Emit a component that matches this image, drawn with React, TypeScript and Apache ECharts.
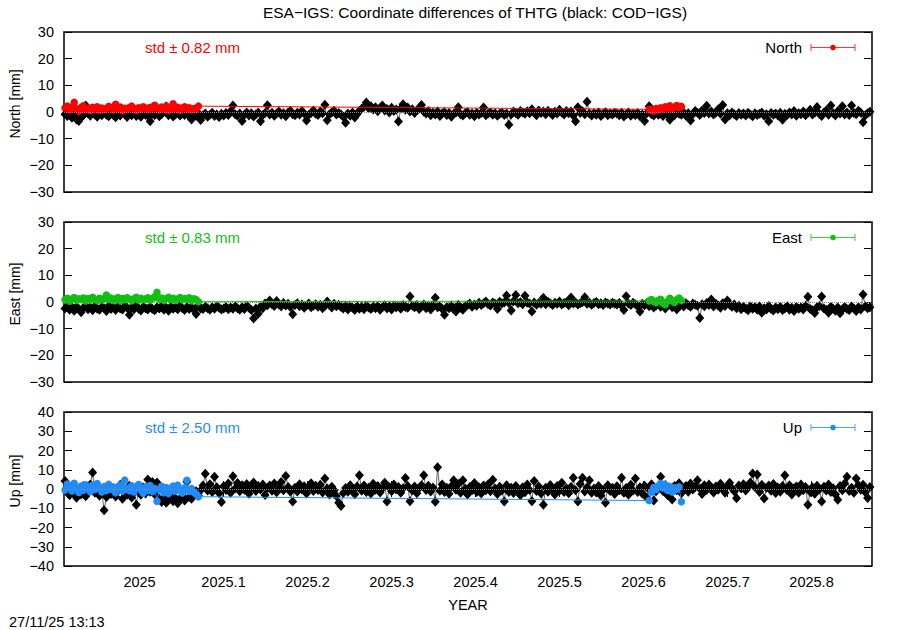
import React, { useEffect, useRef } from "react";
import * as echarts from "echarts";

// ---------- DATA ----------
const TITLE = "ESA\u2212IGS: Coordinate differences of THTG (black: COD\u2212IGS)";
const FOOTER = "27/11/25 13:13";
const X_NAME = "YEAR";
const START_YEAR = 2024.9113; // epoch of day 0
const DAYS_PER_YEAR = 365.25;
const X_MIN = 2024.9101;
const X_MAX = 2025.872;
const X_TICKS = [2025, 2025.1, 2025.2, 2025.3, 2025.4, 2025.5, 2025.6, 2025.7, 2025.8];

const PANEL_NAMES = ["North", "East", "Up"];
const PANEL_LABELS = ["North [mm]", "East [mm]", "Up [mm]"];
const PANEL_STD = ["std \u00b1 0.82 mm", "std \u00b1 0.83 mm", "std \u00b1 2.50 mm"];
const PANEL_COLORS = ["#ff0000", "#10c010", "#1e8cff"];
const Y_RANGES = [[-30, 30], [-30, 30], [-40, 40]];

// ESA clusters start days
const ESA_START_1 = 0;
const ESA_START_2 = 254;

// COD-IGS (black), daily, from day 0
const northCod = [
  -0.8,-1.5,-0.3,-2.2,-1.0,-2.8,-3.4,-2.0,-1.2,2.4,
  -0.6,-1.4,0.2,-0.9,-1.8,-0.5,-1.2,0.4,-1.0,-1.6,
  -0.4,-1.1,-2.0,-0.7,-1.3,0.6,-0.8,-1.9,-0.6,-1.2,
  -0.2,-1.5,-0.9,-1.8,-0.4,-1.0,-1.4,-3.5,-0.7,-1.1,
  -0.3,-1.6,-0.8,1.0,2.2,-1.2,-0.2,-1.7,-0.9,-0.4,
  -1.3,-0.6,-1.1,-0.2,-1.5,-2.8,-0.8,-1.4,-0.5,-3.0,
  -1.2,-0.6,-1.8,-1.0,-0.3,-1.5,-0.9,-1.9,-0.7,-1.3,
  -0.4,-1.1,0.3,2.4,-0.8,-1.4,-0.6,-3.4,-1.0,-0.2,
  -1.3,-0.5,-1.7,-0.8,-0.2,-3.5,-1.1,-0.4,2.5,-0.9,
  -0.3,-1.4,-0.6,0.2,-1.0,-0.5,-1.6,-0.2,0.5,-0.8,
  -1.2,-0.3,-0.9,0.4,-0.6,-3.2,-1.0,-0.4,0.6,-0.7,
  -1.1,0.2,-0.5,2.7,-3.1,-0.8,-0.2,0.5,-0.9,-0.4,
  -0.9,-1.8,-4.0,-0.6,-1.4,-0.2,-2.1,-0.8,0.5,1.2,
  2.0,3.6,1.4,2.2,0.9,1.8,0.3,1.5,2.4,0.6,
  1.1,-0.2,1.6,0.4,0.9,-3.6,1.3,2.9,0.8,1.7,
  0.2,1.0,-0.4,0.7,1.4,2.6,0.1,-0.6,0.4,-1.2,
  -0.3,-0.9,0.2,-1.5,-0.6,-0.1,-1.1,-0.4,-1.8,-0.7,
  -0.2,1.8,-0.8,-1.3,-0.5,-0.1,-1.0,-0.6,-1.6,-0.3,
  -0.9,-0.4,1.7,-1.2,-0.6,-0.2,-1.0,-0.5,-1.4,-0.7,
  -0.3,-1.1,-0.6,-4.8,-0.9,0.2,-0.4,-1.0,0.4,-0.2,
  -0.7,0.3,-0.5,1.0,-0.3,-1.2,0.6,-0.4,0.2,-0.8,
  0.5,-0.3,-1.1,0.1,-0.6,0.8,-0.2,-0.9,0.4,-0.5,
  0.2,-1.3,-3.5,1.8,-0.4,0.3,-0.8,3.8,-0.6,-1.3,
  -0.5,-1.0,-0.2,-1.5,-0.7,-0.1,-1.2,-0.6,-0.9,-0.3,
  -0.6,-1.2,-0.3,-1.7,-0.8,-0.2,-1.4,-0.7,-1.1,-0.4,
  -1.6,-0.9,-3.4,-0.5,2.2,-0.8,-1.3,-0.2,-1.0,-0.6,
  -1.5,-0.3,-0.9,-2.9,-0.4,-1.2,0.3,-0.7,-1.0,-0.2,
  -1.4,-0.5,-3.2,-0.8,0.4,-0.3,-1.1,0.6,-0.4,2.3,
  -0.6,0.2,-0.9,-0.3,1.0,-0.7,2.6,-2.8,-0.5,-1.2,
  -0.2,-0.8,-1.5,-0.4,-1.0,-0.6,-1.3,-0.3,-0.9,-1.6,
  -0.5,-1.1,-0.7,-0.2,-1.4,-0.8,-3.5,-0.4,-1.0,-0.6,
  -1.3,-0.3,-2.9,-0.7,-1.1,-0.2,-0.9,0.4,-1.4,-0.5,
  -0.8,0.2,-1.2,-0.4,0.8,-0.9,-0.3,1.9,-0.7,-1.5,
  -0.2,0.6,-1.0,2.4,-0.5,-1.3,0.3,-0.6,2.2,-0.9,
  -0.2,-1.1,2.4,-0.4,-0.8,0.5,-0.3,-3.8,-1.2,-0.5,
  0.1,
];

const eastCod = [
  -2.4,-1.6,-2.9,-2.0,-3.3,-1.8,-2.6,-3.8,-2.2,-1.4,
  -2.7,-2.0,-3.1,-1.7,-2.5,-2.9,-1.9,-2.3,-3.4,-1.5,
  -2.6,-2.1,-3.0,-1.8,-2.4,-2.8,-1.6,-2.2,-4.8,-2.0,
  -2.7,-1.4,-2.5,-3.2,-1.9,-2.3,-2.8,-1.7,-2.6,-3.1,
  -2.0,-2.4,-1.6,-2.9,-2.2,-3.3,-1.8,-2.5,-2.0,-2.7,
  -1.5,-2.3,-3.0,-1.9,-2.6,-2.1,-2.8,-4.5,-1.2,-2.4,
  -2.6,-1.8,-2.3,-2.9,-2.0,-2.5,-1.6,-2.2,-2.8,-2.4,
  -1.9,-2.7,-2.1,-2.5,-1.7,-2.3,-2.9,-2.0,-2.6,-1.5,
  -2.2,-3.0,-6.2,-2.4,-4.4,-1.8,-2.3,-0.6,-1.2,0.6,
  -0.8,-1.5,0.4,-0.9,-1.7,-0.4,-1.3,-0.7,-1.9,-4.6,
  -1.1,-0.5,-1.6,-0.9,-2.2,-1.3,-0.6,-2.0,-1.4,-0.8,
  -1.8,-1.0,-2.3,-1.5,0.2,-1.2,-2.1,-0.7,-1.6,-1.0,
  -1.9,-2.4,-1.3,-2.8,-1.7,-2.2,-3.0,-1.6,-2.5,-1.9,
  -2.7,-1.4,-2.1,-2.6,-1.8,-2.3,-1.5,-2.9,-2.0,-1.2,
  -2.4,-1.7,-2.8,-1.3,-2.1,-1.6,-2.5,-1.1,-1.9,-2.2,
  2.1,-1.4,-2.0,-1.1,-2.6,-1.7,-0.9,-2.3,-1.5,-2.8,
  -1.2,1.6,-2.0,-1.6,-2.6,-4.8,-1.9,-2.3,-1.3,-2.7,
  -3.6,-1.0,-2.2,-2.9,-1.5,-1.1,-0.6,-1.8,-0.9,-1.4,
  -0.3,-1.1,-0.5,0.2,-0.8,-1.3,-0.2,-0.7,-2.6,0.1,
  -0.6,-0.2,2.4,-0.4,-3.2,0.3,2.6,-0.5,-0.1,-0.8,
  2.3,-0.3,-0.6,-3.6,-0.2,-1.0,-0.4,-0.7,1.6,-0.8,
  0.1,-0.5,-1.1,-0.3,-0.7,0.2,-0.9,-0.4,-0.1,-1.2,
  1.7,-0.6,-0.2,-0.9,-0.5,-0.1,1.8,-0.7,-0.3,-1.0,
  -0.4,0.0,-0.8,-0.5,-1.1,-0.2,-0.6,-0.9,-0.3,-0.7,
  -0.9,-0.4,-1.3,-3.0,2.2,-0.6,-1.1,-0.3,-0.8,-1.5,
  -3.6,-0.7,-1.2,-0.4,-1.6,-0.9,-2.1,-1.3,-0.6,-1.8,
  -1.0,-2.4,-1.4,-0.7,-2.0,-1.1,-2.8,-1.5,-0.9,-1.7,
  -0.5,-1.2,-1.8,-0.6,-1.0,-1.4,-6.0,-0.8,-1.6,-0.4,
  -1.1,0.9,-1.7,-0.7,-1.3,-2.2,-0.5,-1.5,0.6,-1.0,
  -1.8,-0.9,-2.3,-1.4,-2.7,-1.9,-2.4,-3.1,-1.6,-2.5,
  -2.0,-2.9,-1.7,-4.0,-2.3,-2.8,-1.5,-2.6,-3.2,-2.1,
  -2.7,-1.8,-3.0,-2.4,-1.6,-2.9,-2.2,-3.4,-1.9,-2.5,
  -2.1,-2.8,-1.4,2.0,-2.6,-3.1,-4.1,-2.0,-1.5,2.1,
  -2.4,-2.9,-4.0,-1.8,-2.5,-3.3,-2.1,-4.2,-2.7,-1.9,
  -2.6,-3.0,-1.7,-2.4,-3.4,-2.0,-2.8,2.8,-1.6,-2.3,
  -2.0,
];

const upCod = [
  4.2,-1.5,-3.2,0.8,-2.4,-4.6,-0.6,-2.9,1.5,-3.8,
  -1.2,2.4,8.6,-2.0,0.9,-3.5,-1.8,-11.0,-4.2,1.2,
  -2.6,0.4,-3.9,-1.0,2.2,-5.1,-0.7,-2.8,1.7,-4.4,
  -1.9,-8.2,-0.4,-3.0,0.8,-2.3,5.0,-1.4,3.6,-2.7,
  3.4,-5.2,-6.8,-4.5,-7.2,-5.8,-3.9,-6.4,-4.8,-7.4,
  -5.5,-3.6,-6.0,3.8,-4.2,-5.1,-2.7,-1.2,-3.4,-0.6,
  1.8,7.9,-0.8,2.5,-1.6,6.3,0.9,-2.2,-6.8,1.4,
  -0.5,2.8,-1.9,6.6,0.3,3.1,-1.2,1.9,-0.4,2.6,
  -2.5,0.7,3.4,-1.0,1.6,-0.2,2.3,-3.1,0.5,1.8,
  -0.9,2.9,-1.7,0.4,3.6,-0.6,6.8,1.1,-1.4,-6.5,
  0.6,-1.3,2.5,-0.3,1.4,-2.4,0.9,3.0,-1.1,1.7,
  -0.5,2.2,-1.8,5.4,0.3,-2.9,1.2,-0.7,-3.6,-7.2,
  -8.8,-2.1,0.5,-1.4,2.0,-0.6,-2.7,1.3,7.2,-0.9,
  1.8,-1.5,0.6,-2.3,2.7,-0.4,1.5,-1.8,0.2,3.3,
  -6.5,0.9,-1.2,2.4,-0.3,1.1,-2.0,0.4,5.7,1.6,
  -6.4,-0.8,1.3,-2.2,0.5,2.0,7.2,-0.5,1.7,-1.3,
  0.8,-6.6,11.3,-0.9,2.3,-1.6,0.6,-2.5,1.4,4.6,
  -0.4,2.6,-1.9,4.5,0.2,-2.8,1.0,-0.7,3.1,-1.5,
  0.9,-2.3,1.8,-0.6,2.5,-1.2,4.8,0.3,-2.6,1.2,
  -0.8,-6.5,2.0,-1.5,0.7,-2.1,1.6,-0.3,-3.2,0.9,
  -1.7,2.4,-0.5,-6.4,4.1,-1.0,1.3,-2.4,-8.2,0.6,
  -1.4,2.1,-0.2,-2.8,1.5,-0.9,3.2,-1.6,0.4,-2.2,
  1.1,5.8,-0.7,-6.5,2.6,5.9,-1.3,0.8,4.6,-2.0,
  0.3,-1.8,1.6,-3.4,-0.5,-7.2,2.0,-1.1,0.7,-2.6,
  1.4,-0.6,5.8,-1.9,0.5,-3.0,2.2,-0.8,5.4,-1.5,
  0.9,-2.4,1.7,-4.6,-0.3,2.5,-6.0,-1.2,0.6,6.3,
  -1.0,2.1,-3.3,0.8,-5.5,1.5,-0.7,3.0,-2.2,0.4,
  1.6,-1.4,2.8,-0.2,1.0,4.6,0.3,-2.6,1.9,-0.5,
  2.4,0.6,-1.8,1.3,-0.4,2.7,0.1,-2.0,1.5,3.2,
  0.4,-1.2,-4.8,1.8,0.2,2.5,-0.8,1.2,3.4,8.0,
  1.0,7.5,-1.5,2.2,-4.9,0.6,1.8,-0.9,2.6,-2.1,
  0.8,-1.4,1.5,7.2,-0.6,2.0,-2.8,0.4,1.3,-1.9,
  2.4,-0.7,1.0,-8.2,-1.6,0.9,-2.5,1.7,-0.3,-6.5,
  1.2,-0.8,2.3,-1.5,0.4,-2.9,-5.6,1.6,-0.6,2.8,
  6.3,-1.1,0.7,-2.0,5.4,1.9,-0.4,2.2,-1.7,-4.7,
  1.0,
];

// ESA-IGS (coloured), two clusters
const northEsa1 = [
  1.5,2.2,0.8,1.9,3.6,1.2,0.4,1.7,2.3,0.9,
  1.4,0.6,1.8,1.1,2.0,0.7,1.5,0.9,1.3,2.1,
  1.6,0.8,2.9,1.2,1.9,0.5,1.4,1.0,1.7,2.2,
  1.3,0.7,1.6,1.1,2.0,1.4,0.9,1.8,1.2,2.5,
  1.5,0.8,1.9,1.3,2.2,0.6,1.4,3.1,1.1,1.8,
  0.7,1.5,2.0,1.2,1.6,0.8,1.3,1.0,2.2,
];
const northEsa2 = [1.0,0.6,0.4,1.3,0.8,1.6,1.1,2.0,1.4,2.3,1.2,1.8,2.4,1.6,2.1];

const eastEsa1 = [
  0.8,1.4,0.3,1.1,1.7,0.6,1.2,0.9,1.5,0.4,
  1.3,0.7,1.8,1.0,0.5,1.4,0.8,1.2,2.6,0.9,
  1.5,0.6,1.1,1.7,0.4,1.3,0.8,1.6,1.0,0.5,
  1.2,1.8,0.7,1.4,0.9,1.1,1.6,0.6,1.3,2.0,
  3.6,1.0,1.5,0.7,1.2,1.8,0.9,1.4,0.6,1.1,
  1.7,0.8,1.3,1.0,1.6,0.5,1.2,0.9,0.1,
];
const eastEsa2 = [0.4,0.9,0.2,-0.3,0.6,1.0,-0.5,-1.0,0.3,1.4,0.5,-0.2,0.8,1.5,0.6];

const upEsa1 = [
  -0.5,2.6,1.2,-1.0,3.0,0.4,-1.8,1.6,-0.6,2.2,
  0.8,-1.4,1.9,-0.2,2.8,0.5,-1.6,1.3,-0.8,2.4,
  -0.3,1.0,-2.0,0.6,2.1,-1.1,4.6,0.2,-0.9,1.7,
  -1.5,0.7,2.3,-0.4,-2.2,1.1,-0.7,1.8,-1.3,0.3,
  -6.4,-0.5,1.4,-1.9,0.8,-2.4,0.1,1.5,-1.0,2.0,
  -0.8,-2.1,0.6,4.5,-1.2,0.2,-1.7,-2.6,-4.0,
];
const upEsa2 = [-6.0,-1.5,0.8,-0.4,1.6,3.0,0.5,2.2,-0.8,1.2,-1.6,0.6,-0.3,1.1,-6.6];

const COD_SERIES = [northCod, eastCod, upCod];
const ESA_SERIES = [[northEsa1, northEsa2], [eastEsa1, eastEsa2], [upEsa1, upEsa2]];

// ---------- LAYOUT ----------
const FONT = "'Liberation Sans', Arial, Helvetica, sans-serif";
const GRIDS = [
  { left: 64, top: 32, width: 808, height: 160 },
  { left: 64, top: 222, width: 808, height: 160 },
  { left: 64, top: 412, width: 808, height: 154 },
];

const toYear = (day: number) => START_YEAR + day / DAYS_PER_YEAR;
const minus = (v: number | string) => String(v).replace("-", "\u2212");

function buildOption() {
  const grid = GRIDS.map((g) => ({
    ...g,
    show: true,
    borderColor: "#000",
    borderWidth: 1.5,
    backgroundColor: "transparent",
  }));

  const xAxis: any[] = [];
  const yAxis: any[] = [];
  const series: any[] = [];
  const graphic: any[] = [];

  GRIDS.forEach((g, gi) => {
    const bottomPanel = gi === GRIDS.length - 1;
    ["bottom", "top"].forEach((pos) => {
      xAxis.push({
        type: "value",
        gridIndex: gi,
        position: pos,
        min: X_MIN,
        max: X_MAX,
        axisLine: { show: false },
        splitLine: { show: false },
        axisTick: {
          show: bottomPanel,
          inside: true,
          length: 8,
          lineStyle: { color: "#000", width: 1 },
          customValues: X_TICKS,
        },
        axisLabel: {
          show: bottomPanel && pos === "bottom",
          customValues: X_TICKS,
          formatter: (v: number) => String(Math.round(v * 10) / 10),
          color: "#000",
          fontSize: 14.5,
          fontFamily: FONT,
          margin: 8,
        },
      });
    });
    const [ymin, ymax] = Y_RANGES[gi];
    ["left", "right"].forEach((pos) => {
      yAxis.push({
        type: "value",
        gridIndex: gi,
        position: pos,
        min: ymin,
        max: ymax,
        interval: 10,
        axisLine: { show: false },
        splitLine: { show: false },
        axisTick: { show: true, inside: true, length: 8, lineStyle: { color: "#000", width: 1 } },
        axisLabel: {
          show: pos === "left",
          formatter: (v: number) => minus(v),
          color: "#000",
          fontSize: 14.5,
          fontFamily: FONT,
          margin: 10,
        },
      });
    });

    const color = PANEL_COLORS[gi];
    // zero dotted reference line
    series.push({
      type: "line",
      xAxisIndex: gi * 2,
      yAxisIndex: gi * 2,
      data: [],
      z: 1,
      silent: true,
      markLine: {
        silent: true,
        symbol: "none",
        label: { show: false },
        lineStyle: { type: "dotted", color: "#888", width: 1 },
        data: [{ yAxis: 0 }],
      },
    });
    // COD-IGS black
    series.push({
      type: "line",
      xAxisIndex: gi * 2,
      yAxisIndex: gi * 2,
      data: COD_SERIES[gi].map((v, i) => [toYear(i), v]),
      symbol: "diamond",
      symbolSize: [9, 10],
      showAllSymbol: true,
      itemStyle: { color: "#000" },
      lineStyle: { color: "#666", width: 1 },
      z: 2,
      silent: true,
    });
    // ESA-IGS coloured
    const [c1, c2] = ESA_SERIES[gi];
    series.push({
      type: "line",
      xAxisIndex: gi * 2,
      yAxisIndex: gi * 2,
      data: [
        ...c1.map((v, i) => [toYear(ESA_START_1 + i), v]),
        ...c2.map((v, i) => [toYear(ESA_START_2 + i), v]),
      ],
      symbol: "circle",
      symbolSize: 7.5,
      showAllSymbol: true,
      itemStyle: { color },
      lineStyle: { color, width: 1 },
      z: 3,
      silent: true,
    });

    // std text
    const ly = g.top + 15.5;
    graphic.push({
      type: "text",
      x: 145,
      y: ly,
      style: { text: PANEL_STD[gi], fill: color, font: `15px ${FONT}`, textAlign: "left", textVerticalAlign: "middle" },
    });
    // legend
    graphic.push({
      type: "text",
      x: 802,
      y: ly,
      style: { text: PANEL_NAMES[gi], fill: "#000", font: `15px ${FONT}`, textAlign: "right", textVerticalAlign: "middle" },
    });
    graphic.push({ type: "line", shape: { x1: 811, y1: ly, x2: 855, y2: ly }, style: { stroke: color, lineWidth: 1, opacity: 0.8 } });
    graphic.push({ type: "line", shape: { x1: 811, y1: ly - 3.5, x2: 811, y2: ly + 3.5 }, style: { stroke: color, lineWidth: 1, opacity: 0.8 } });
    graphic.push({ type: "line", shape: { x1: 855, y1: ly - 3.5, x2: 855, y2: ly + 3.5 }, style: { stroke: color, lineWidth: 1, opacity: 0.8 } });
    graphic.push({ type: "circle", shape: { cx: 833, cy: ly, r: 2.8 }, style: { fill: color } });
    // y axis name
    graphic.push({
      type: "text",
      x: 15,
      y: g.top + g.height / 2 - 8,
      rotation: Math.PI / 2,
      style: { text: PANEL_LABELS[gi], fill: "#000", font: `14px ${FONT}`, textAlign: "center", textVerticalAlign: "middle" },
    });
  });

  graphic.push({
    type: "text",
    x: 475,
    y: 12,
    style: { text: TITLE, fill: "#000", font: `15.5px ${FONT}`, textAlign: "center", textVerticalAlign: "middle" },
  });
  graphic.push({
    type: "text",
    x: 468,
    y: 605,
    style: { text: X_NAME, fill: "#000", font: `14.5px ${FONT}`, textAlign: "center", textVerticalAlign: "middle" },
  });
  graphic.push({
    type: "text",
    x: 9,
    y: 622,
    style: { text: FOOTER, fill: "#000", font: `14.5px ${FONT}`, textAlign: "left", textVerticalAlign: "middle" },
  });

  return {
    animation: false,
    backgroundColor: "#fff",
    grid,
    xAxis,
    yAxis,
    series,
    graphic,
  };
}

export default function App() {
  const ref = useRef<HTMLDivElement>(null);
  useEffect(() => {
    document.body.style.margin = "0";
    if (!ref.current) return;
    const chart = echarts.init(ref.current, null, { renderer: "svg" });
    chart.setOption(buildOption() as any);
    return () => chart.dispose();
  }, []);
  return <div ref={ref} style={{ width: 900, height: 630, position: "absolute", left: 0, top: 0 }} />;
}
